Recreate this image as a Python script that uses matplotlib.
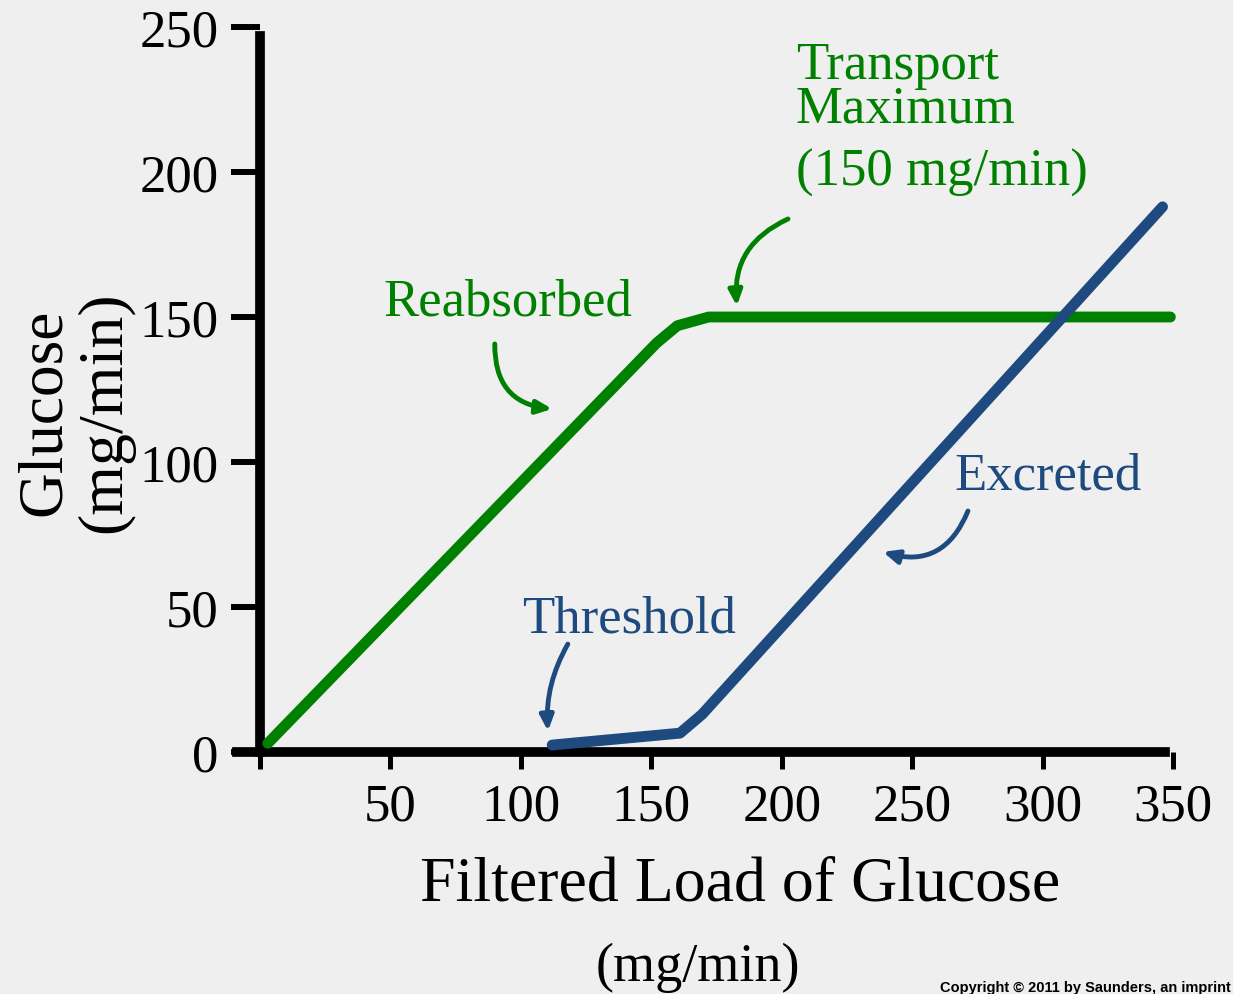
import matplotlib.pyplot as plt

# Filtered load (x) vs glucose rate (y), mg/min
reabsorbed_x = [3, 152, 160, 172, 349]
reabsorbed_y = [3, 141, 147, 150, 150]
excreted_x = [112, 161, 169.5, 346]
excreted_y = [2.4, 6.5, 13, 188]

x_ticks = [0, 50, 100, 150, 200, 250, 300, 350]
x_tick_labels = ["", "50", "100", "150", "200", "250", "300", "350"]
y_ticks = [0, 50, 100, 150, 200, 250]

GREEN = "#008000"
BLUE = "#1f4a7f"
BG = "#efefef"
SERIF = "Liberation Serif"

W, H = 1233, 995
fig = plt.figure(figsize=(W / 100, H / 100), dpi=100, facecolor=BG)

# axes placed in pixel units; x = 0 sits at px 260, x = 350 at px 1173
x0_px, x350_px, top, bottom = 260, 1173, 28, 753
xmin = -9
scale = (x350_px - x0_px) / 350
left = x0_px + xmin * scale
ax = fig.add_axes([left / W, 1 - bottom / H, (x350_px - left) / W, (bottom - top) / H])
ax.set_facecolor("none")
ax.set_xlim(xmin, 350)
ax.set_ylim(0, 250)

for s in ["top", "right"]:
    ax.spines[s].set_visible(False)
ax.spines["left"].set_position(("data", 0))
ax.spines["left"].set_linewidth(7)
ax.spines["bottom"].set_linewidth(7)
ax.spines["left"].set_bounds(0, 247)
ax.spines["bottom"].set_bounds(xmin, 347)

ax.set_xticks(x_ticks)
ax.set_xticklabels(x_tick_labels, fontfamily=SERIF, fontsize=38)
ax.set_yticks(y_ticks)
ax.set_yticklabels([str(v) for v in y_ticks], fontfamily=SERIF, fontsize=38)
ax.tick_params(axis="x", direction="out", length=12, width=3.6, pad=10)
ax.tick_params(axis="y", direction="out", length=21, width=4.3, pad=9)

ax.plot(reabsorbed_x, reabsorbed_y, color=GREEN, lw=7.8,
        solid_capstyle="round", solid_joinstyle="round", clip_on=False, zorder=3)
ax.plot(excreted_x, excreted_y, color=BLUE, lw=7.8,
        solid_capstyle="round", solid_joinstyle="round", clip_on=False, zorder=3)

# curve labels
ax.text(205.4, 237, "Transport", color=GREEN, fontfamily=SERIF, fontsize=38, va="center")
ax.text(205.4, 222, "Maximum", color=GREEN, fontfamily=SERIF, fontsize=38, va="center")
ax.text(205.4, 200, "(150 mg/min)", color=GREEN, fontfamily=SERIF, fontsize=38, va="center")
ax.text(47.5, 155.5, "Reabsorbed", color=GREEN, fontfamily=SERIF, fontsize=38, va="center")
ax.text(266.4, 95.5, "Excreted", color=BLUE, fontfamily=SERIF, fontsize=38, va="center")
ax.text(100.4, 45.9, "Threshold", color=BLUE, fontfamily=SERIF, fontsize=38, va="center")


def arrow(tail, head, color, rad):
    ax.annotate("", xy=head, xytext=tail,
                arrowprops=dict(arrowstyle="-|>,head_length=0.9,head_width=0.4",
                                color=color, lw=3.5,
                                connectionstyle=f"arc3,rad={rad}",
                                shrinkA=0, shrinkB=0))


arrow((90, 140.7), (112, 118.3), GREEN, 0.45)
arrow((202.4, 183.8), (182.8, 153.8), GREEN, 0.35)
arrow((271.4, 83.1), (238.8, 69), BLUE, -0.45)
arrow((118, 37.2), (110.4, 7.2), BLUE, 0.15)

# axis titles
fig.text(45 / W, 1 - 412 / H, "Glucose", rotation=90, fontfamily=SERIF,
         fontsize=45.5, ha="center", va="center")
fig.text(105 / W, 1 - 412 / H, "(mg/min)", rotation=90, fontfamily=SERIF,
         fontsize=46, ha="center", va="center")
fig.text(740 / W, 1 - 886 / H, "Filtered Load of Glucose", fontfamily=SERIF,
         fontsize=46, ha="center", va="center")
fig.text(698 / W, 1 - 968 / H, "(mg/min)", fontfamily=SERIF,
         fontsize=39, ha="center", va="center")

fig.text(1231 / W, 3 / H, "Copyright \u00a9 2011 by Saunders, an imprint",
         fontfamily="Liberation Sans", fontweight="bold", fontsize=10.5,
         ha="right", va="baseline")

fig.savefig("out.png", dpi=100, facecolor=BG)
